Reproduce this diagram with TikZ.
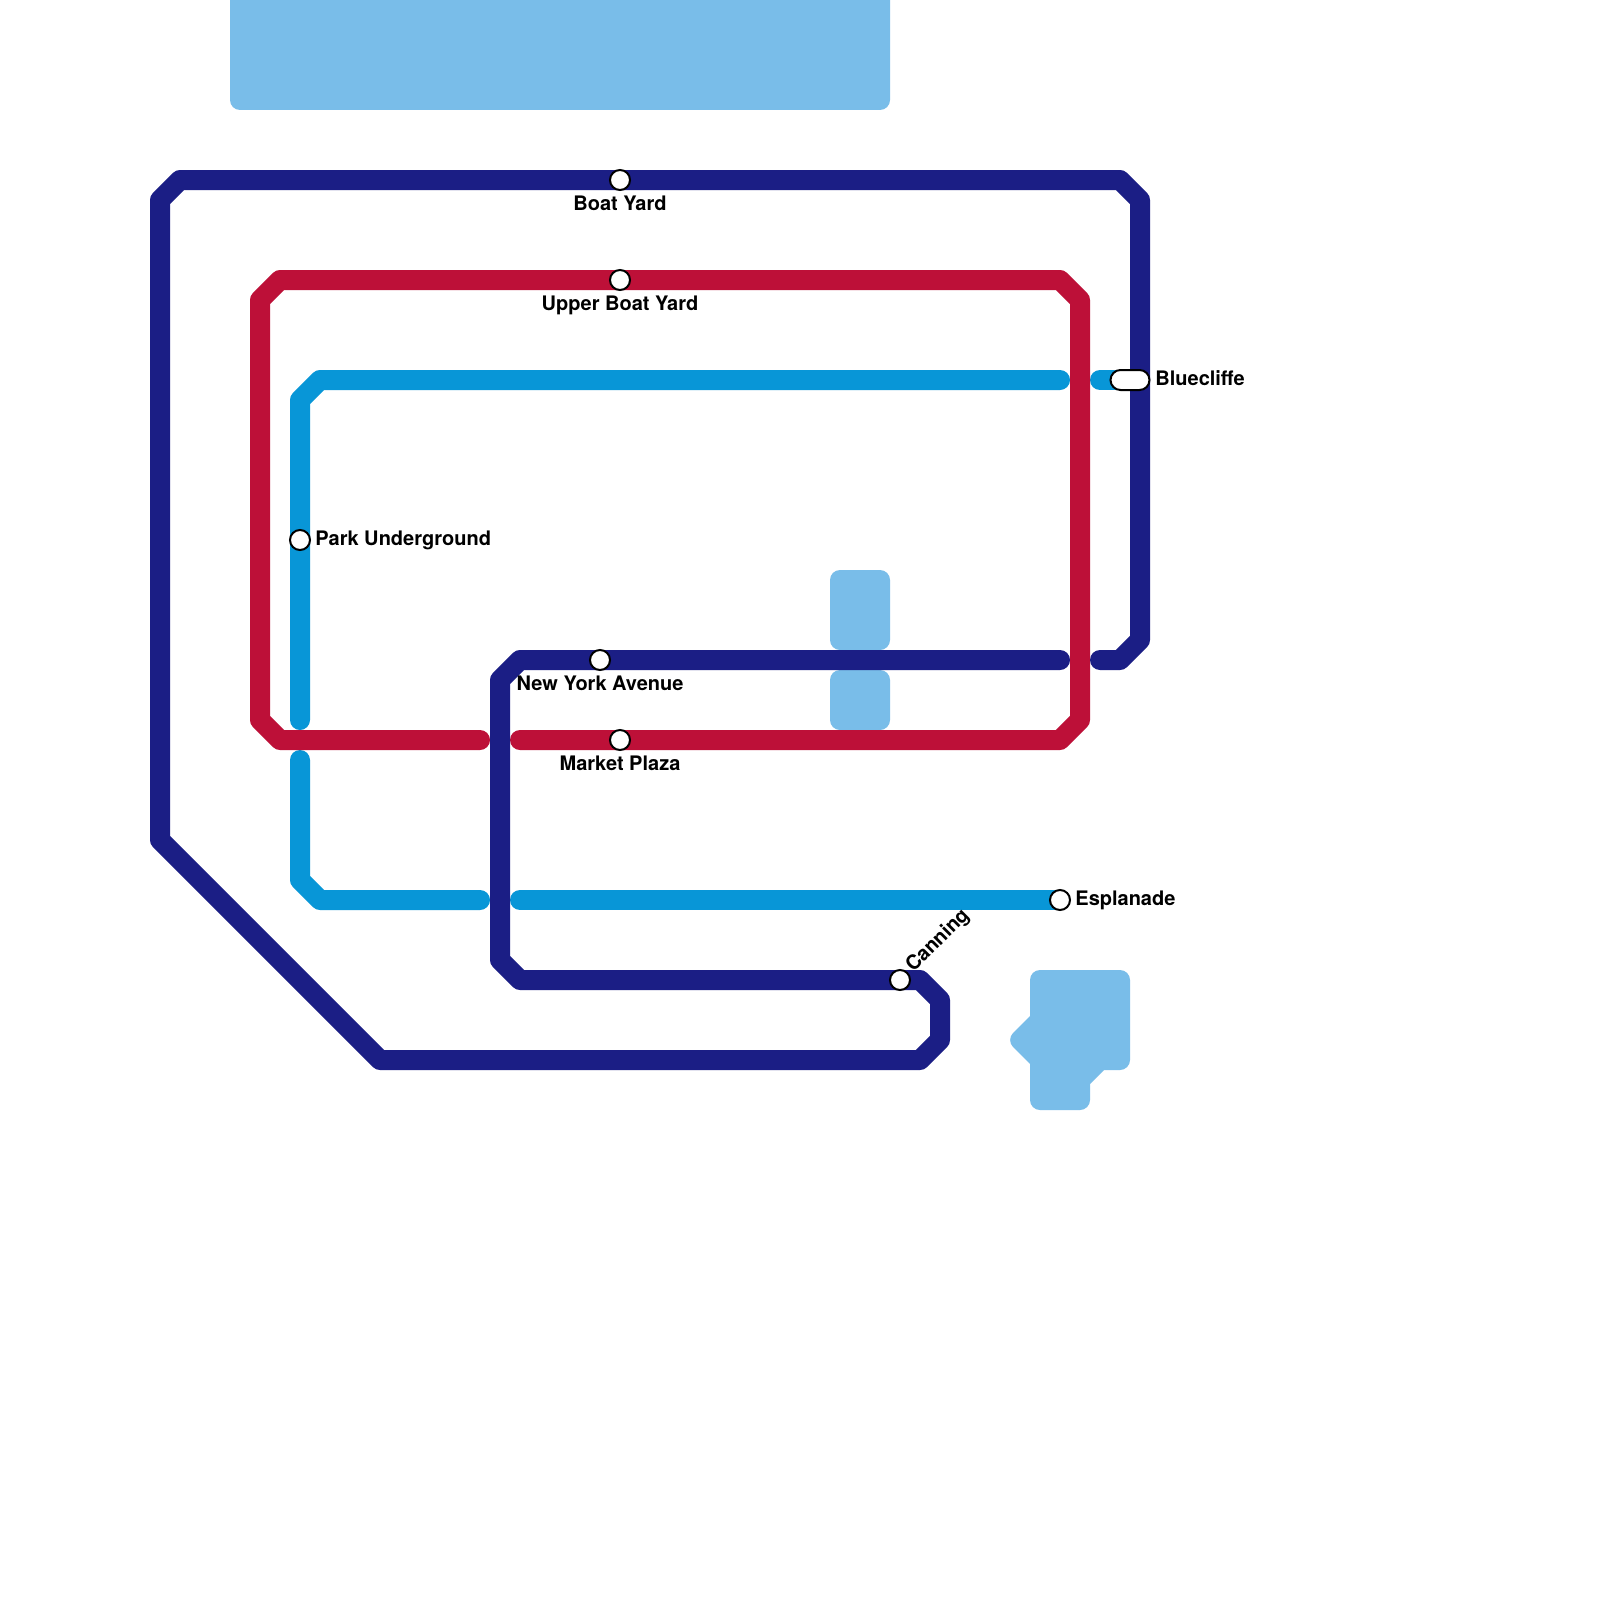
\documentclass[tikz,border=0pt]{standalone}
\usepackage{fontspec}
\setmainfont{TeX Gyre Heros}
\usetikzlibrary{shapes.misc}
\definecolor{MetroNavy}{HTML}{1B1E85}
\definecolor{MetroRed}{HTML}{BD1038}
\definecolor{MetroBlue}{HTML}{0896D7}
\definecolor{MetroWater}{HTML}{79BDE9}
\tikzset{
  metroline/.style={line width=10pt,line cap=round,line join=round},
  waterblock/.style={fill=MetroWater,rounded corners=5pt},
  stationdot/.style={circle,draw=black,fill=white,line width=1pt,inner sep=0pt,minimum size=10pt},
  stationpill/.style={rounded rectangle,draw=black,fill=white,line width=1pt,inner sep=0pt,minimum width=19.5pt,minimum height=10pt},
  stationlabel/.style={text=black,inner sep=0pt,font=\bfseries\fontsize{10}{12}\selectfont}
}
\begin{document}
\begin{tikzpicture}[x=0.5pt,y=-0.5pt]

    \useasboundingbox (0,0) rectangle (1600,1600);
    \fill[white] (0,0) rectangle (1600,1600);

    \fill[waterblock]
      (230,0) [sharp corners] -- (890,0) [rounded corners=5pt] -- (890,110) -- (230,110) [sharp corners] -- cycle;
    \fill[waterblock] (830,570) rectangle (890,650);
    \fill[waterblock] (830,670) rectangle (890,730);
    \fill[waterblock]
      (1030,1016) -- (1030,970) -- (1130,970) -- (1130,1070)
      [sharp corners] -- (1104,1070) -- (1090,1084) [rounded corners=5pt]
      -- (1090,1110) -- (1030,1110) [sharp corners] -- (1030,1064) [rounded corners=5pt]
      -- (1006,1040) [sharp corners] -- cycle;

    \draw[metroline,MetroBlue]
      (300,720) -- (300,400) -- (320,380) -- (1060,380);
    \draw[metroline,MetroBlue]
      (1100,380) -- (1120,380);
    \draw[metroline,MetroBlue]
      (1060,900) -- (520,900);
    \draw[metroline,MetroBlue]
      (480,900) -- (320,900) -- (300,880) -- (300,760);

    \draw[metroline,MetroRed]
      (480,740) -- (280,740) -- (260,720) -- (260,300) -- (280,280) -- (1060,280)
      -- (1080,300) -- (1080,720) -- (1060,740) -- (520,740);

    \draw[metroline,MetroNavy]
      (900,980) -- (920,980) -- (940,1000) -- (940,1040) -- (920,1060) -- (380,1060)
      -- (160,840) -- (160,200) -- (180,180) -- (1120,180) -- (1140,200) -- (1140,640)
      -- (1120,660) -- (1100,660);
    \draw[metroline,MetroNavy]
      (1060,660) -- (520,660) -- (500,680) -- (500,960) -- (520,980) -- (900,980);

    \foreach \nm/\x/\y in {
      boatyard/620/180,
      upperboatyard/620/280,
      park/300/540,
      newyork/600/660,
      market/620/740,
      esplanade/1060/900,
      canning/900/980
    }{
      \node[stationdot] (\nm) at (\x,\y) {};
    }
    \node[stationpill] (bluecliffe) at (1130,380) {};

    \foreach \nm/\x/\y/\lab in {
      boatyardlabel/620/203/Boat Yard,
      upperlabel/620/303/Upper Boat Yard,
      newyorklabel/600/683/New York Avenue,
      marketlabel/620/763/Market Plaza
    }{
      \node[stationlabel,anchor=base] (\nm) at (\x,\y+7) {\lab};
    }

    \foreach \nm/\x/\y/\lab in {
      parklabel/315/538/Park Underground,
      bluecliffelabel/1155/378/Bluecliffe,
      esplanadelabel/1075/898/Esplanade
    }{
      \node[stationlabel,anchor=base west] (\nm) at (\x,\y+7) {\lab};
    }

    \node[stationlabel,anchor=west,rotate=45] (canninglabel) at (909.5,969.5) {Canning};

  \end{tikzpicture}
\end{document}
